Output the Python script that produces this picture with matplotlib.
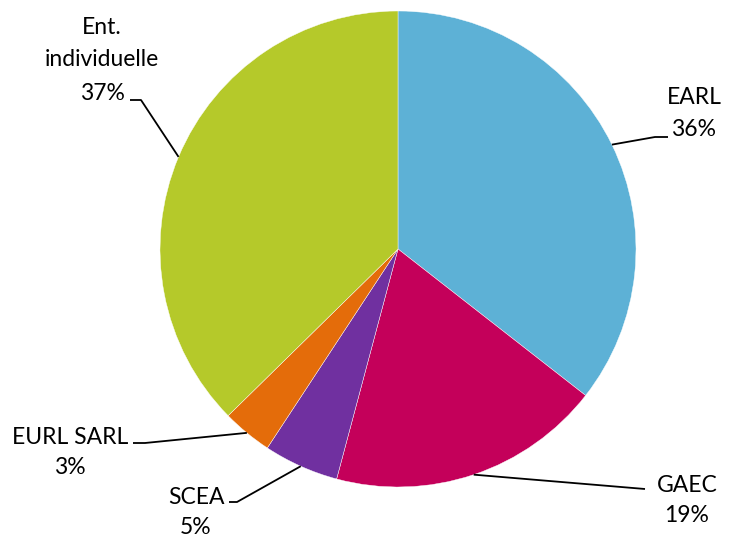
import numpy as np
import matplotlib
matplotlib.use("Agg")
import matplotlib.pyplot as plt

categories = ["EARL", "GAEC", "SCEA", "EURL SARL", "Ent.\nindividuelle"]
values = [35.55, 18.6, 5.1, 3.4, 37.35]
pct_labels = ["36%", "19%", "5%", "3%", "37%"]
colors = ["#5DB1D6", "#C4005A", "#7030A0", "#E46C0A", "#B5C92A"]

W, H = 729, 537
fig = plt.figure(figsize=(W / 100, H / 100), dpi=100)
ax = fig.add_axes([0, 0, 1, 1])

cx, cy, r = 398, H - 249, 238
wedges, _ = ax.pie(values, colors=colors, startangle=90, counterclock=False,
                   center=(cx, cy), radius=r, frame=True,
                   wedgeprops=dict(linewidth=0.3, edgecolor="white"))
ax.set_xlim(0, W)
ax.set_ylim(0, H)
ax.axis("off")

# label layout (pixel positions: text center x, line y's; leader polyline after the edge point)
layout = [
    dict(tx=694, ty=[98, 130], path=[(655, 137), (668, 137)]),
    dict(tx=687, ty=[485, 515], path=[(645, 489)]),
    dict(tx=196, ty=[497, 528], path=[(237, 502), (229, 502)]),
    dict(tx=70, ty=[437, 468], path=[(145, 443), (133, 443)]),
    dict(tx=102, ty=[28, 60, 93], path=[(141, 100), (130, 100)]),
]

font = dict(family=["Lato", "DejaVu Sans"], fontsize=16.5, color="#000000")
for w, cat, pct, lay in zip(wedges, categories, pct_labels, layout):
    ang = np.deg2rad((w.theta1 + w.theta2) / 2)
    ex, ey = cx + r * np.cos(ang), cy + r * np.sin(ang)
    xs = [ex] + [p[0] for p in lay["path"]]
    ys = [ey] + [H - p[1] for p in lay["path"]]
    ax.plot(xs, ys, color="black", lw=1.3, solid_capstyle="butt")
    lines = cat.split("\n") + [pct]
    for line, y in zip(lines, lay["ty"]):
        ax.text(lay["tx"], H - y, line, ha="center", va="center", **font)

fig.savefig("out.png", dpi=100, facecolor="white")
